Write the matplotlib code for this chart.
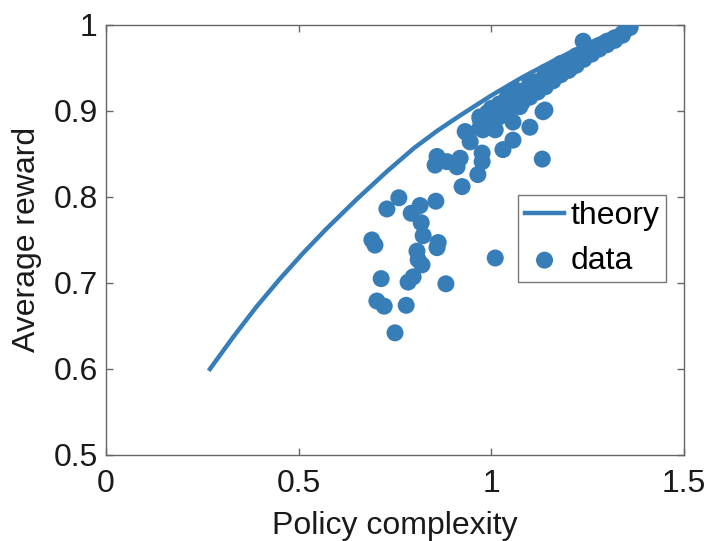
import matplotlib
matplotlib.use("Agg")
import matplotlib.pyplot as plt

plt.rcParams['font.family'] = ['Liberation Sans', 'DejaVu Sans']

# theory curve
theory_x = [0.27, 0.33, 0.39, 0.45, 0.51, 0.57, 0.65, 0.73, 0.80, 0.86, 0.92,
            1.00, 1.08, 1.16, 1.24, 1.30, 1.36]
theory_y = [0.600, 0.637, 0.672, 0.704, 0.734, 0.762, 0.797, 0.830, 0.857, 0.877, 0.895,
            0.918, 0.939, 0.958, 0.976, 0.988, 1.000]

# data points
data_x = [0.924, 0.760, 0.729, 0.856, 0.815, 0.792, 0.818, 0.823, 0.862, 0.859,
          0.690, 0.698, 0.807, 0.810, 0.820, 0.714, 0.797, 0.784, 0.882, 0.703,
          0.722, 0.779, 0.750, 1.010,
          0.859, 0.854, 0.885, 0.919, 0.911, 0.932, 0.945, 0.978, 1.010, 0.965,
          0.976, 0.976, 1.030, 1.056, 1.100, 1.132, 1.134, 0.989, 1.015, 1.041,
          1.074, 1.056, 0.937, 0.997, 0.971, 1.139, 1.204, 1.264, 1.238,
          0.97, 0.97, 0.99, 0.99, 1.00, 1.00, 1.02, 1.02, 1.04, 1.04,
          1.06, 1.06, 1.08, 1.08, 1.10, 1.10, 1.12, 1.12, 1.14, 1.14,
          1.16, 1.16, 1.18, 1.18, 1.20, 1.20, 1.22, 1.22, 1.24, 1.24,
          1.26, 1.26, 1.28, 1.28, 1.30, 1.30, 1.32, 1.32, 1.34, 1.34,
          1.35, 1.36,
          1.06, 1.10, 1.14, 1.18, 1.22, 1.26, 1.30]
data_y = [0.812, 0.799, 0.786, 0.795, 0.790, 0.781, 0.770, 0.755, 0.747, 0.741,
          0.750, 0.744, 0.737, 0.727, 0.721, 0.705, 0.707, 0.701, 0.699, 0.679,
          0.673, 0.674, 0.642, 0.729,
          0.847, 0.837, 0.841, 0.845, 0.835, 0.876, 0.864, 0.878, 0.878, 0.826,
          0.851, 0.841, 0.855, 0.866, 0.881, 0.844, 0.899, 0.893, 0.901, 0.916,
          0.905, 0.887, 0.874, 0.893, 0.890, 0.901, 0.949, 0.969, 0.981,
          0.893, 0.880, 0.898, 0.884, 0.903, 0.890, 0.908, 0.893, 0.913, 0.900,
          0.918, 0.905, 0.923, 0.910, 0.929, 0.916, 0.934, 0.922, 0.939, 0.928,
          0.945, 0.935, 0.950, 0.942, 0.955, 0.947, 0.960, 0.953, 0.966, 0.960,
          0.970, 0.966, 0.976, 0.972, 0.980, 0.977, 0.985, 0.982, 0.990, 0.988,
          0.995, 0.997,
          0.925, 0.935, 0.945, 0.955, 0.964, 0.972, 0.981]

color = '#377EB8'
spine = '#666666'

fig = plt.figure(figsize=(7.06, 5.41), dpi=100)
ax = fig.add_axes([0.150, 0.159, 0.819, 0.795])

ax.plot(theory_x, theory_y, color=color, lw=3.2, label='theory', zorder=2,
        solid_joinstyle='round')
ax.scatter(data_x, data_y, s=150, color=color, edgecolors='none', label='data', zorder=3)

ax.set_xlim(0, 1.5)
ax.set_ylim(0.5, 1.0)
ax.set_xticks([0, 0.5, 1, 1.5])
ax.set_xticklabels(['0', '0.5', '1', '1.5'])
ax.set_yticks([0.5, 0.6, 0.7, 0.8, 0.9, 1.0])
ax.set_yticklabels(['0.5', '0.6', '0.7', '0.8', '0.9', '1'])
ax.tick_params(direction='in', length=5, width=1, colors=spine, labelcolor='#1a1a1a',
               labelsize=23, top=True, right=True)
ax.tick_params(axis='x', pad=10)
ax.tick_params(axis='y', pad=6)
for s in ax.spines.values():
    s.set_color(spine)
    s.set_linewidth(1)

ax.set_xlabel('Policy complexity', fontsize=23, color='#1a1a1a', labelpad=9)
ax.set_ylabel('Average reward', fontsize=23, color='#1a1a1a', labelpad=8)

leg = ax.legend(loc='upper left', bbox_to_anchor=(0.713, 0.605), borderaxespad=0,
                fontsize=23, frameon=True, fancybox=False, handlelength=1.25,
                handletextpad=0.2, borderpad=0.2, labelspacing=0.45, markerscale=1.0)
leg.get_frame().set_edgecolor('#555555')
leg.get_frame().set_linewidth(1)

fig.savefig('out.png', dpi=100)
